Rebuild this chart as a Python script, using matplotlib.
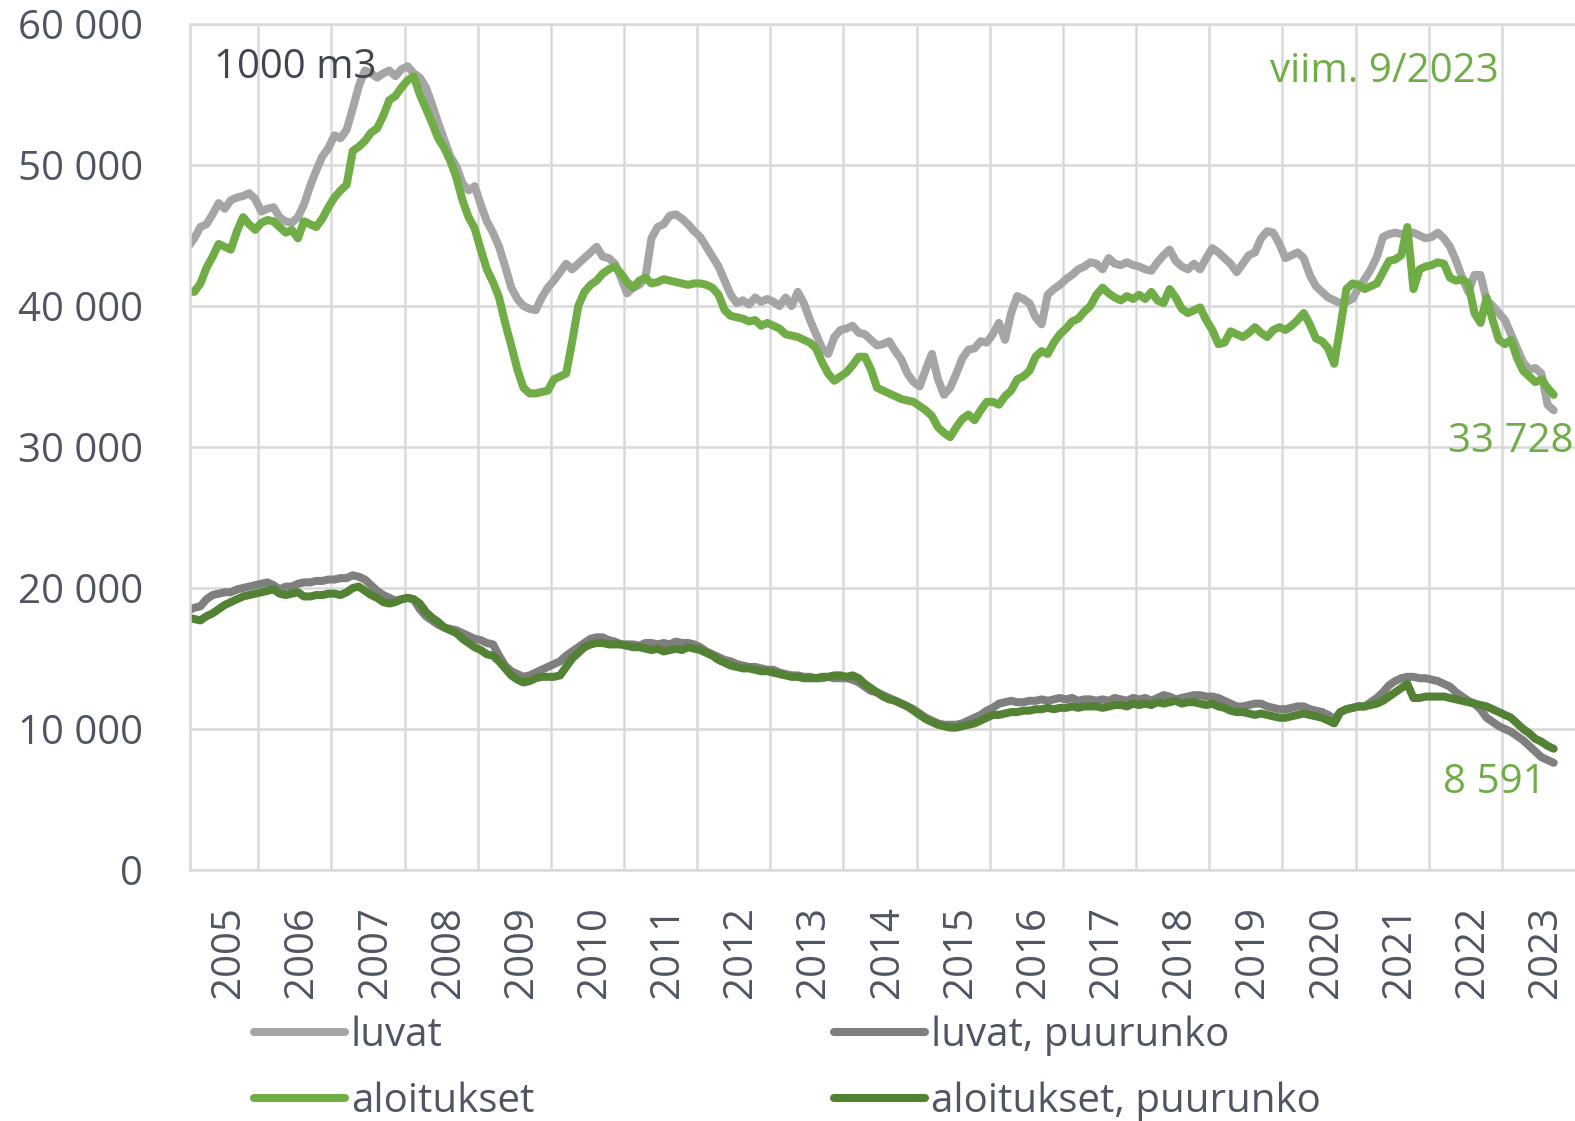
import numpy as np
import matplotlib
matplotlib.use('Agg')
import matplotlib.pyplot as plt

plt.rcParams['font.family'] = ['Open Sans', 'DejaVu Sans']

# monthly values, 1000 m3, from 2005-01 to 2023-09
years = [str(y) for y in range(2005, 2024)]

luvat = [
    44.2, 44.8, 45.6, 45.8, 46.5, 47.3, 46.9, 47.5, 47.7, 47.8, 48.0, 47.6,  # 2005
    46.7, 46.9, 47.0, 46.3, 46.0, 45.9, 46.3, 47.2, 48.5, 49.6, 50.6, 51.2,  # 2006
    52.1, 51.9, 52.5, 54.0, 55.6, 56.7, 56.5, 56.2, 56.5, 56.7, 56.3, 56.8,  # 2007
    57.0, 56.5, 56.2, 55.5, 54.3, 53.0, 51.8, 50.6, 49.9, 48.7, 48.2, 48.5,  # 2008
    47.2, 46.0, 45.2, 44.2, 42.8, 41.3, 40.5, 40.0, 39.8, 39.7, 40.6, 41.3,  # 2009
    41.8, 42.4, 43.0, 42.6, 43.0, 43.4, 43.8, 44.2, 43.5, 43.4, 43.0, 42.0,  # 2010
    40.9, 41.3, 41.5, 42.0, 44.8, 45.6, 45.8, 46.4, 46.5, 46.2, 45.8, 45.3,  # 2011
    44.9, 44.2, 43.5, 42.8, 41.8, 40.8, 40.2, 40.4, 40.1, 40.6, 40.3, 40.5,  # 2012
    40.3, 40.0, 40.6, 40.0, 41.0, 40.2, 39.0, 38.0, 37.0, 36.6, 37.8, 38.3,  # 2013
    38.4, 38.6, 38.1, 38.0, 37.6, 37.2, 37.3, 37.5, 36.8, 36.2, 35.2, 34.6,  # 2014
    34.3, 35.5, 36.6, 34.8, 33.7, 34.2, 35.2, 36.3, 36.9, 37.0, 37.5, 37.4,  # 2015
    38.0, 38.8, 37.6, 39.5, 40.7, 40.5, 40.2, 39.2, 38.7, 40.8, 41.2, 41.5,  # 2016
    41.9, 42.2, 42.6, 42.8, 43.1, 43.0, 42.6, 43.4, 43.0, 42.9, 43.1, 42.9,  # 2017
    42.8, 42.6, 42.5, 43.1, 43.6, 44.0, 43.2, 42.8, 42.6, 43.0, 42.6, 43.4,  # 2018
    44.1, 43.8, 43.4, 43.0, 42.4, 43.0, 43.6, 43.8, 44.8, 45.3, 45.2, 44.4,  # 2019
    43.4, 43.6, 43.8, 43.4, 42.2, 41.4, 41.0, 40.6, 40.4, 40.2, 40.3, 40.5,  # 2020
    41.3, 41.9, 42.6, 43.5, 44.9, 45.1, 45.2, 45.1, 45.2, 45.2, 45.0, 44.8,  # 2021
    44.9, 45.2, 44.8, 44.2, 43.2, 42.0, 41.0, 42.2, 42.2, 40.4, 40.0, 39.5,  # 2022
    39.0, 38.0, 37.0, 36.0, 35.5, 35.6, 35.2, 33.0, 32.6,                    # 2023
]

aloitukset = [
    41.1, 41.0, 41.6, 42.7, 43.5, 44.4, 44.2, 44.0, 45.3, 46.3, 45.8, 45.4,
    45.9, 46.1, 46.0, 45.6, 45.2, 45.4, 44.8, 46.0, 45.8, 45.6, 46.2, 47.0,
    47.7, 48.2, 48.6, 51.0, 51.3, 51.7, 52.3, 52.6, 53.5, 54.6, 54.9, 55.5,
    56.0, 56.3, 55.0, 54.0, 53.0, 51.9, 51.2, 50.3, 49.1, 47.5, 46.3, 45.5,
    44.0, 42.6, 41.7, 40.6, 38.8, 37.2, 35.5, 34.2, 33.8, 33.8, 33.9, 34.0,
    34.8, 35.0, 35.2, 37.5, 40.0, 41.0, 41.5, 41.8, 42.3, 42.6, 42.8, 42.3,
    41.7, 41.3, 41.8, 42.0, 41.6, 41.7, 41.9, 41.8, 41.7, 41.6, 41.5, 41.6,
    41.6, 41.5, 41.3, 40.8, 39.7, 39.3, 39.2, 39.1, 38.9, 39.0, 38.6, 38.8,
    38.6, 38.4, 38.0, 37.9, 37.8, 37.6, 37.4, 37.0, 36.0, 35.2, 34.7, 35.0,
    35.3, 35.8, 36.4, 36.4, 35.5, 34.2, 34.0, 33.8, 33.6, 33.4, 33.3, 33.2,
    32.9, 32.6, 32.2, 31.4, 31.0, 30.7, 31.4, 32.0, 32.3, 31.9, 32.6, 33.2,
    33.2, 33.0, 33.6, 34.0, 34.8, 35.0, 35.4, 36.4, 36.8, 36.6, 37.4, 38.0,
    38.4, 38.9, 39.1, 39.6, 40.0, 40.8, 41.3, 40.9, 40.6, 40.4, 40.7, 40.5,
    40.8, 40.5, 41.0, 40.4, 40.2, 41.2, 40.6, 39.8, 39.5, 39.7, 39.9, 39.0,
    38.3, 37.3, 37.4, 38.2, 38.0, 37.8, 38.1, 38.5, 38.1, 37.8, 38.3, 38.5,
    38.3, 38.6, 39.0, 39.5, 38.7, 37.7, 37.5, 37.0, 35.9, 38.5, 41.2, 41.6,
    41.5, 41.2, 41.4, 41.6, 42.4, 43.2, 43.3, 43.6, 45.6, 41.2, 42.6, 42.8,
    42.9, 43.1, 43.0, 42.0, 41.8, 41.9, 41.6, 39.5, 38.8, 40.6, 39.0, 37.6,
    37.3, 37.6, 36.3, 35.4, 35.0, 34.6, 34.8, 34.2, 33.7,
]

luvat_puu = [
    18.4, 18.6, 18.7, 19.2, 19.5, 19.6, 19.7, 19.7, 19.9, 20.0, 20.1, 20.2,
    20.3, 20.4, 20.2, 19.9, 20.1, 20.1, 20.3, 20.4, 20.4, 20.5, 20.5, 20.6,
    20.6, 20.7, 20.7, 20.9, 20.8, 20.6, 20.2, 19.8, 19.5, 19.3, 19.1, 19.2,
    19.3, 19.2, 18.5, 18.0, 17.7, 17.4, 17.2, 17.1, 17.0, 16.8, 16.6, 16.4,
    16.3, 16.1, 16.0, 15.2, 14.5, 14.1, 13.9, 13.7, 13.8, 14.0, 14.2, 14.4,
    14.6, 14.8, 15.2, 15.5, 15.8, 16.1, 16.4, 16.5, 16.5, 16.3, 16.2, 16.0,
    16.0, 16.0, 15.9, 16.1, 16.1, 16.0, 16.1, 16.0, 16.2, 16.1, 16.1, 16.0,
    15.8, 15.5, 15.3, 15.1, 14.9, 14.8, 14.6, 14.5, 14.4, 14.4, 14.3, 14.2,
    14.2, 14.0, 13.9, 13.8, 13.8, 13.7, 13.7, 13.6, 13.6, 13.7, 13.6, 13.6,
    13.6, 13.5, 13.3, 13.0, 12.7, 12.6, 12.4, 12.2, 12.0, 11.8, 11.6, 11.4,
    11.1, 10.8, 10.6, 10.4, 10.3, 10.3, 10.3, 10.4, 10.6, 10.8, 11.0, 11.3,
    11.5, 11.8, 11.9, 12.0, 11.9, 11.9, 12.0, 12.0, 12.1, 12.0, 12.1, 12.2,
    12.1, 12.2, 12.0, 12.1, 12.1, 12.0, 12.1, 12.0, 12.2, 12.1, 12.0, 12.2,
    12.1, 12.2, 12.0, 12.2, 12.4, 12.3, 12.1, 12.2, 12.3, 12.4, 12.4, 12.3,
    12.3, 12.2, 12.0, 11.8, 11.6, 11.6, 11.7, 11.8, 11.8, 11.6, 11.5, 11.4,
    11.4, 11.5, 11.6, 11.6, 11.4, 11.3, 11.2, 11.0, 10.7, 11.2, 11.4, 11.5,
    11.6, 11.6, 11.9, 12.2, 12.6, 13.1, 13.4, 13.6, 13.7, 13.7, 13.6, 13.6,
    13.5, 13.4, 13.2, 13.0, 12.6, 12.3, 12.0, 11.8, 11.4, 10.8, 10.5, 10.2,
    10.0, 9.8, 9.5, 9.2, 8.8, 8.4, 8.0, 7.8, 7.6,
]

aloitukset_puu = [
    17.9, 17.8, 17.7, 18.0, 18.2, 18.5, 18.8, 19.0, 19.2, 19.4, 19.5, 19.6,
    19.7, 19.8, 19.9, 19.6, 19.5, 19.6, 19.7, 19.4, 19.4, 19.5, 19.5, 19.6,
    19.6, 19.5, 19.7, 20.0, 20.1, 19.8, 19.5, 19.3, 19.0, 18.9, 19.0, 19.2,
    19.3, 19.2, 18.9, 18.3, 17.9, 17.6, 17.2, 17.0, 16.8, 16.4, 16.1, 15.8,
    15.6, 15.3, 15.2, 14.8, 14.3, 13.8, 13.5, 13.3, 13.4, 13.6, 13.7, 13.7,
    13.7, 13.8, 14.4, 15.0, 15.4, 15.8, 16.0, 16.1, 16.1, 16.0, 16.0, 16.0,
    15.9, 15.8, 15.8, 15.7, 15.6, 15.7, 15.5, 15.6, 15.7, 15.6, 15.8, 15.7,
    15.6, 15.4, 15.2, 14.9, 14.7, 14.5, 14.4, 14.3, 14.3, 14.2, 14.1, 14.1,
    14.0, 13.9, 13.8, 13.7, 13.7, 13.6, 13.6, 13.6, 13.7, 13.7, 13.8, 13.8,
    13.7, 13.8, 13.6, 13.2, 12.9, 12.6, 12.3, 12.1, 12.0, 11.8, 11.6, 11.3,
    11.0, 10.7, 10.5, 10.3, 10.2, 10.1, 10.1, 10.2, 10.3, 10.4, 10.6, 10.8,
    11.0, 11.0, 11.1, 11.2, 11.2, 11.3, 11.3, 11.4, 11.4, 11.5, 11.4, 11.5,
    11.5, 11.6, 11.5, 11.6, 11.6, 11.6, 11.5, 11.6, 11.7, 11.7, 11.6, 11.8,
    11.7, 11.8, 11.7, 11.9, 11.8, 11.9, 12.0, 11.8, 11.9, 11.9, 11.8, 11.7,
    11.8, 11.6, 11.5, 11.3, 11.2, 11.2, 11.1, 11.0, 11.1, 11.0, 10.9, 10.8,
    10.8, 10.9, 11.0, 11.1, 11.0, 10.9, 10.8, 10.6, 10.4, 11.2, 11.4, 11.5,
    11.6, 11.6, 11.7, 11.8, 12.0, 12.3, 12.6, 12.9, 13.2, 12.2, 12.2, 12.3,
    12.3, 12.3, 12.3, 12.2, 12.1, 12.0, 11.9, 11.8, 11.7, 11.6, 11.4, 11.2,
    11.0, 10.8, 10.4, 10.0, 9.7, 9.3, 9.1, 8.8, 8.6,
]

last_values = [33728, 8591]

c_luvat = '#A5A5A5'
c_luvat_puu = '#7F7F7F'
c_aloit = '#70AD47'
c_aloit_puu = '#548235'
txt = '#4F5662'
grid_c = '#D9D9D9'

fig = plt.figure(figsize=(15.75, 11.21), dpi=100)
ax = fig.add_axes([190 / 1575, 1 - 870 / 1121, 1385 / 1575, 846 / 1121])

lw = 5.8
series = [
    (luvat, c_luvat, 'luvat'),
    (luvat_puu, c_luvat_puu, 'luvat, puurunko'),
    (aloitukset, c_aloit, 'aloitukset'),
    (aloitukset_puu, c_aloit_puu, 'aloitukset, puurunko'),
]
lines = {}
for vals, col, name in series:
    y = np.array(vals) * 1000
    x = np.arange(len(y))
    ln, = ax.plot(x, y, color=col, lw=lw, solid_capstyle='round',
                  solid_joinstyle='round', label=name)
    lines[name] = ln

ax.set_xlim(0.3, 227.5)
ax.set_ylim(0, 60000)

fs = 29
ax.set_yticks(np.arange(0, 60001, 10000))
ax.set_yticklabels([f'{v:,}'.replace(',', ' ') for v in range(0, 60001, 10000)])
ax.set_xticks([12 * k + 6.7 for k in range(len(years))])
ax.set_xticklabels(years, rotation=90)
ax.set_xticks([12 * k - 0.5 for k in range(1, len(years))], minor=True)

ax.tick_params(axis='both', which='both', length=0, labelsize=fs, labelcolor=txt)
ax.tick_params(axis='y', pad=34)
ax.tick_params(axis='x', pad=26)

ax.grid(axis='y', which='major', color=grid_c, lw=1.8)
ax.grid(axis='x', which='minor', color=grid_c, lw=1.8)
ax.set_axisbelow(True)
for s in ['left', 'bottom', 'top']:
    ax.spines[s].set_color(grid_c)
    ax.spines[s].set_linewidth(1.8)
ax.spines['right'].set_visible(False)

ax.text(4.3, 56900, '1000 m3', fontsize=fs, color='#404650', va='center', ha='left')
ax.text(215.0, 56600, 'viim. 9/2023', fontsize=fs, color=c_aloit, va='center', ha='right')
ax.text(227.3, 30400, f'{last_values[0]:,}'.replace(',', ' '), fontsize=fs,
        color=c_aloit, va='center', ha='right')
ax.text(222.6, 6200, f'{last_values[1]:,}'.replace(',', ' '), fontsize=fs,
        color=c_aloit, va='center', ha='right')

handles = [lines['luvat'], lines['aloitukset'],
           lines['luvat, puurunko'], lines['aloitukset, puurunko']]
leg = fig.legend(handles, [h.get_label() for h in handles], ncol=2,
                 loc='upper left', bbox_to_anchor=(254 / 1575, 1 - 1016 / 1121),
                 frameon=False, fontsize=fs, handlelength=2.25, handletextpad=0.15,
                 columnspacing=7.45, labelspacing=0.62, borderpad=0, borderaxespad=0)
for t in leg.get_texts():
    t.set_color(txt)

fig.savefig('out.png', dpi=100)
